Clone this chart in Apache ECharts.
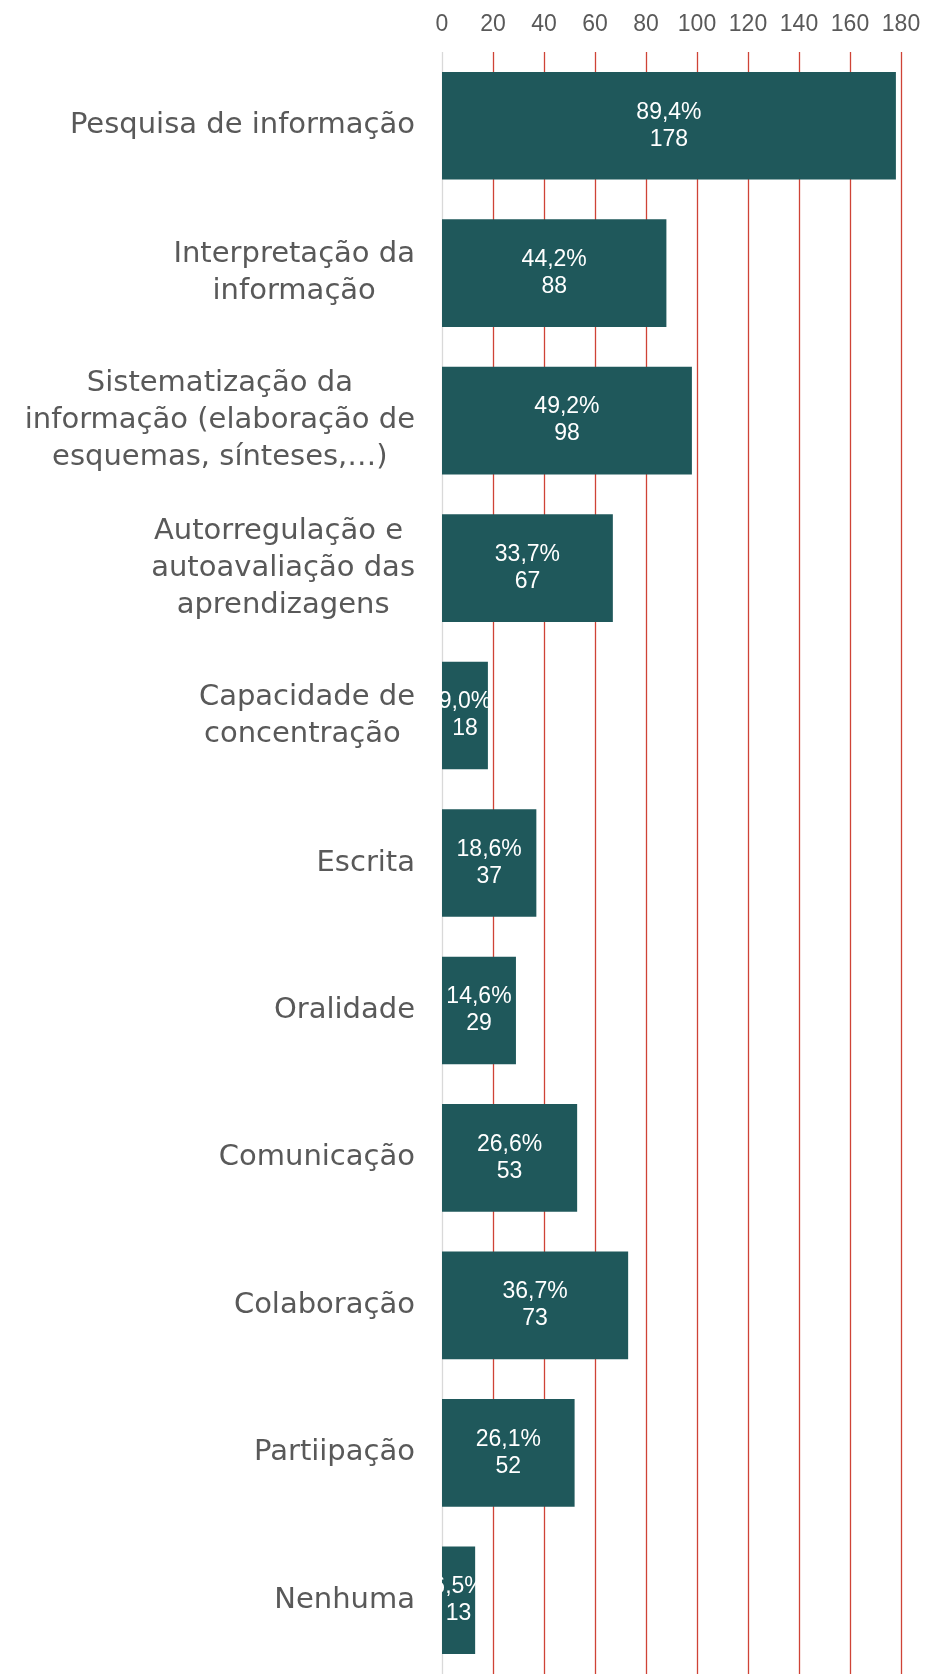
<!DOCTYPE html>
<html>
<head>
<meta charset="utf-8">
<script src="https://cdn.jsdelivr.net/npm/echarts@6/dist/echarts.min.js"></script>
<style>
html,body{margin:0;padding:0;background:#fff;}
#chart{width:940px;height:1674px;}
</style>
</head>
<body>
<div id="chart"></div>
<script>
const categories = [
  "Pesquisa de informação",
  "Interpretação da\ninformação",
  "Sistematização da\ninformação (elaboração de\nesquemas, sínteses,…)",
  "Autorregulação e \nautoavaliação das\naprendizagens",
  "Capacidade de\nconcentração ",
  "Escrita",
  "Oralidade",
  "Comunicação",
  "Colaboração",
  "Partiipação",
  "Nenhuma"
];
const counts = [178, 88, 98, 67, 18, 37, 29, 53, 73, 52, 13];
const percents = ["89,4%", "44,2%", "49,2%", "33,7%", "9,0%", "18,6%", "14,6%", "26,6%", "36,7%", "26,1%", "6,5%"];
const xTicks = { min: 0, max: 180, interval: 20 };

const chart = echarts.init(document.getElementById('chart'), null, { renderer: 'canvas' });
const gridColors = ['#d9d9d9'].concat(new Array(9).fill('#cf4336'));
const numFont = 'Arial';
chart.setOption({
  animation: false,
  backgroundColor: '#ffffff',
  grid: { left: 442, right: 39, top: 52, bottom: -6, containLabel: false },
  xAxis: {
    type: 'value', position: 'top',
    min: xTicks.min, max: xTicks.max, interval: xTicks.interval,
    axisLine: { show: false }, axisTick: { show: false },
    axisLabel: { color: '#595959', fontSize: 23, fontFamily: numFont, margin: 16 },
    splitLine: { show: true, lineStyle: { color: gridColors, width: 1.3 } }
  },
  yAxis: {
    type: 'category', inverse: true, data: categories,
    axisLine: { show: false }, axisTick: { show: false },
    axisLabel: {
      margin: 27, color: '#595959', fontSize: 29, fontFamily: 'DejaVu Sans', lineHeight: 37,
      align: 'right',
      formatter: function (v) { return v.split('\n').map(function (l) { return '{c|' + l + '}'; }).join('\n'); },
      rich: { c: { align: 'center', color: '#595959', fontSize: 29, fontFamily: 'DejaVu Sans', lineHeight: 37 } }
    }
  },
  series: [{
    type: 'bar', data: counts, barCategoryGap: '27%',
    itemStyle: { color: '#1f585b' },
    label: {
      show: true, position: 'inside', color: '#ffffff', fontSize: 23,
      fontFamily: numFont, lineHeight: 27,
      formatter: function (p) { return percents[p.dataIndex] + '\n' + counts[p.dataIndex]; }
    }
  }]
});
</script>
</body>
</html>
